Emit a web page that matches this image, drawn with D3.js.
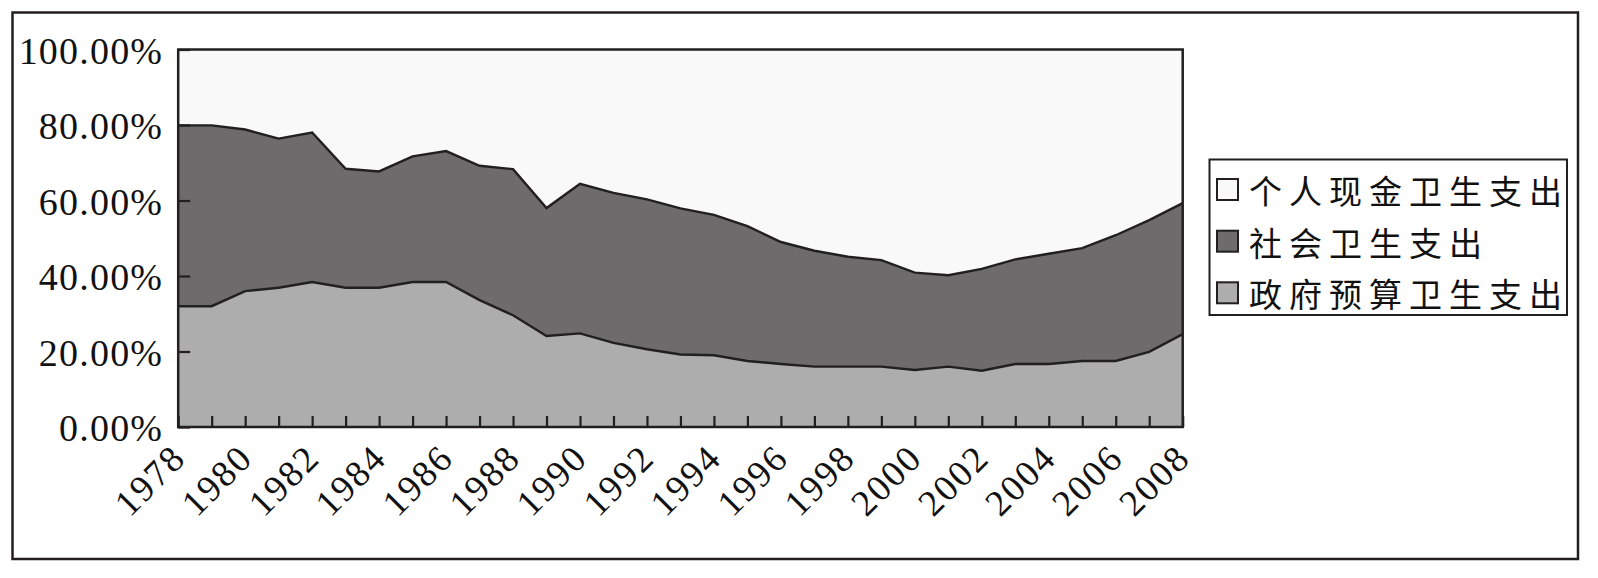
<!DOCTYPE html>
<html>
<head>
<meta charset="utf-8">
<script src="https://cdn.jsdelivr.net/npm/d3@7"></script>
<style>
  html, body { margin: 0; padding: 0; background: #ffffff; }
  svg { display: block; }
</style>
</head>
<body>
<svg id="chart" width="1598" height="578"></svg>
<script>
// ---------- data ----------
const years = [1978,1979,1980,1981,1982,1983,1984,1985,1986,1987,1988,1989,1990,1991,1992,1993,1994,1995,1996,1997,1998,1999,2000,2001,2002,2003,2004,2005,2006,2007,2008];
// 政府预算卫生支出 share (%)
const govShare = [32.0,32.0,36.0,36.9,38.4,36.9,36.9,38.4,38.4,33.6,29.6,24.1,24.8,22.3,20.6,19.2,19.0,17.5,16.7,16.0,16.0,16.0,15.1,16.0,14.9,16.7,16.7,17.5,17.5,19.9,24.6];
// 社会卫生支出 share (%)
const socialShare = [47.9,47.9,42.8,39.5,39.6,31.5,30.8,33.3,34.7,35.6,38.7,33.9,39.6,39.7,39.7,38.7,37.2,35.7,32.3,30.7,29.1,28.2,25.8,24.2,27.0,27.7,29.2,29.9,33.3,34.9,34.7];
// 个人现金卫生支出 share (%)
const personalShare = [20.1,20.1,21.2,23.6,22.0,31.6,32.3,28.3,26.9,30.8,31.7,42.0,35.6,38.0,39.7,42.1,43.8,46.8,51.0,53.3,54.9,55.8,59.1,59.8,58.1,55.6,54.1,52.6,49.2,45.2,40.7];

const seriesKeys = ["gov", "social", "personal"];
const legendNames = ["个人现金卫生支出", "社会卫生支出", "政府预算卫生支出"];
const legendKeys = ["personal", "social", "gov"];
const yTickValues = [0, 20, 40, 60, 80, 100];
const yTickLabels = ["0.00%", "20.00%", "40.00%", "60.00%", "80.00%", "100.00%"];
const xLabelYears = [1978,1980,1982,1984,1986,1988,1990,1992,1994,1996,1998,2000,2002,2004,2006,2008];

// ---------- styles ----------
const colors = { personal: "#f9f9f9", social: "#6d6b6c", gov: "#adadad" };
const ink = "#231f20";

const svg = d3.select("#chart");

// outer frame
svg.append("rect")
  .attr("x", 12.5).attr("y", 12.5).attr("width", 1565.5).attr("height", 546.5)
  .attr("fill", "#ffffff").attr("stroke", ink).attr("stroke-width", 2.5);

const plot = { left: 178.2, right: 1182.7, top: 49.5, bottom: 427 };

const x = d3.scaleLinear().domain([years[0], years[years.length - 1]]).range([plot.left, plot.right]);
const y = d3.scaleLinear().domain([0, 100]).range([plot.bottom, plot.top]);

const table = years.map((yr, i) => ({ year: yr, gov: govShare[i], social: socialShare[i], personal: personalShare[i] }));
const stacked = d3.stack().keys(seriesKeys)(table);

const area = d3.area()
  .x(d => x(d.data.year))
  .y0(d => y(d[0]))
  .y1(d => y(Math.min(100, d[1])));

const g = svg.append("g");

// plot background
g.append("rect")
  .attr("x", plot.left).attr("y", plot.top)
  .attr("width", plot.right - plot.left).attr("height", plot.bottom - plot.top)
  .attr("fill", colors.personal);

// areas
g.selectAll("path.layer")
  .data(stacked)
  .join("path")
  .attr("class", "layer")
  .attr("fill", d => colors[d.key])
  .attr("d", area);

// boundary lines (top of gov and social)
const line = d3.line().x(d => x(d.data.year)).y(d => y(d[1]));
g.selectAll("path.edge")
  .data(stacked.filter(s => s.key !== "personal"))
  .join("path")
  .attr("class", "edge")
  .attr("fill", "none")
  .attr("stroke", ink)
  .attr("stroke-width", 2.4)
  .attr("stroke-linejoin", "miter")
  .attr("d", line);

// y axis
const yAxis = d3.axisLeft(y)
  .tickValues(yTickValues)
  .tickSize(-12)
  .tickPadding(15)
  .tickFormat((d, i) => yTickLabels[i]);

const yg = svg.append("g").attr("transform", `translate(${plot.left},0)`).call(yAxis);
yg.select(".domain").remove();
yg.selectAll(".tick line").attr("stroke", ink).attr("stroke-width", 2.2);
yg.selectAll(".tick text")
  .attr("fill", "#111")
  .attr("dy", "0.36em")
  .style("font-family", "'Liberation Serif', 'Times New Roman', serif")
  .style("font-size", "38px")
  .style("letter-spacing", "1.2px");

// x axis
const xAxis = d3.axisBottom(x)
  .tickValues(years)
  .tickSize(-11)
  .tickFormat(d => xLabelYears.includes(d) ? String(d) : "");

const xg = svg.append("g").attr("transform", `translate(0,${plot.bottom})`).call(xAxis);
xg.select(".domain").remove();
xg.selectAll(".tick line").attr("stroke", ink).attr("stroke-width", 2.2);
xg.selectAll(".tick text")
  .attr("x", 0).attr("y", 0).attr("dy", 0)
  .attr("text-anchor", "end")
  .attr("transform", "translate(9,33) rotate(-45)")
  .attr("fill", "#111")
  .style("font-family", "'Liberation Serif', 'Times New Roman', serif")
  .style("font-size", "37px")
  .style("letter-spacing", "2px");

// plot border
svg.append("rect")
  .attr("x", plot.left).attr("y", plot.top)
  .attr("width", plot.right - plot.left).attr("height", plot.bottom - plot.top)
  .attr("fill", "none").attr("stroke", ink).attr("stroke-width", 2.5);

// legend
const lg = svg.append("g");
lg.append("rect")
  .attr("x", 1209.5).attr("y", 159.5).attr("width", 357.5).attr("height", 155.5)
  .attr("fill", "#ffffff").attr("stroke", ink).attr("stroke-width", 2);

const rowY = [190, 241.7, 293.3];
legendKeys.forEach((k, i) => {
  lg.append("rect")
    .attr("x", 1217).attr("y", rowY[i] - 11).attr("width", 21).attr("height", 21)
    .attr("fill", colors[k]).attr("stroke", ink).attr("stroke-width", 2);
  lg.append("text")
    .attr("x", 1249).attr("y", rowY[i])
    .attr("dominant-baseline", "central")
    .attr("fill", "#111")
    .style("font-family", "'Noto Sans CJK SC', sans-serif")
    .style("font-size", "33px")
    .style("letter-spacing", "7px")
    .text(legendNames[i]);
});
</script>
</body>
</html>
